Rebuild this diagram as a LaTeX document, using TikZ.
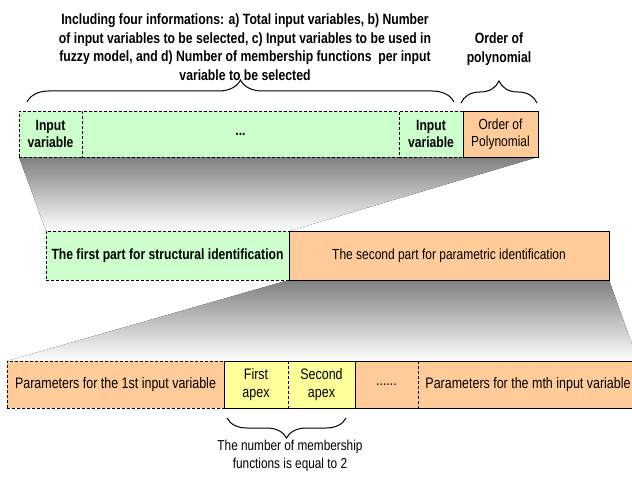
\documentclass[tikz,border=0pt]{standalone}
\usepackage{fontspec}
\setmainfont[FakeStretch=0.82]{Liberation Sans}
\usetikzlibrary{positioning, backgrounds, decorations.pathreplacing}

\definecolor{grn}{HTML}{CCFFCC}
\definecolor{org}{HTML}{FFCC99}
\definecolor{ylw}{HTML}{FFFF99}
\definecolor{shade}{HTML}{C0C0C0}

\tikzset{
	part/.style={inner sep=0pt, outer sep=0pt, align=center, line width=0.9pt},
	grnpart/.style={part, draw, densely dashed, fill=grn, font=\bfseries\fontsize{14.8}{17.5}\selectfont},
	orgpart/.style={part, draw, fill=org, font=\fontsize{14.6}{17.5}\selectfont},
	parpart/.style={part, fill=org, font=\fontsize{15.2}{18}\selectfont},
	apexpart/.style={part, fill=ylw, font=\fontsize{15.2}{18}\selectfont},
	curly/.style={decorate, decoration={brace, amplitude=#1}, line width=1pt},
	note/.style={align=center, inner sep=0pt}
}

\begin{document}
\begin{tikzpicture}[x=1pt, y=1pt]
	\clip[use as bounding box] (0,0) rectangle (632,-481);

	% chromosome: input variables and order
	\node (in1)[grnpart, minimum width=63pt, minimum height=46pt, anchor=north west] at (19,-111) {Input\\variable};
	\node (dots)[grnpart, minimum width=317pt, minimum height=46pt, right=0pt of in1] {...};
	\node (in2)[grnpart, minimum width=64pt, minimum height=46pt, right=0pt of dots] {Input\\variable};
	\node (order)[orgpart, minimum width=75pt, minimum height=46pt, right=0pt of in2] {Order of\\Polynomial};

	% the two parts
	\node (struct)[grnpart, minimum width=243pt, minimum height=49pt, anchor=north west] at (46,-231) {The first part for structural identification};
	\node (param)[orgpart, minimum width=320pt, minimum height=49pt, right=0pt of struct] {The second part for parametric identification};

	% parameters
	\node (p1)[parpart, draw, densely dashed, minimum width=217pt, minimum height=47pt, anchor=north west] at (7,-361) {Parameters for the 1st input variable};
	\node (apex1)[apexpart, minimum width=64pt, minimum height=47pt, right=0pt of p1] {First\\apex};
	\node (apex2)[apexpart, minimum width=67pt, minimum height=47pt, right=0pt of apex1] {Second\\apex};
	\node (pdots)[parpart, minimum width=63pt, minimum height=47pt, right=0pt of apex2] {......};
	\node (pm)[parpart, minimum width=220pt, minimum height=47pt, right=0pt of pdots] {Parameters for the mth input variable};
	\draw[line width=0.9pt] (apex1.north west) rectangle (apex2.south east);
	\draw[line width=0.9pt, densely dashed] (apex1.north east) -- (apex1.south east);
	\draw[line width=0.9pt] (pdots.north west) rectangle (pm.south east);
	\draw[line width=0.9pt, densely dashed] (pdots.north east) -- (pdots.south east);

	\begin{scope}[on background layer]
		\fill[shade] (in1.south west) -- (order.south east) -- (struct.north east) -- (struct.north west) -- cycle;
		\fill[shade] (param.south west) -- (param.south east) -- (pm.north east) -- (p1.north west) -- cycle;
	\end{scope}

	% braces and notes
	\draw[curly=22pt] ([shift={(8pt,9pt)}]in1.north west) -- ([shift={(-9pt,9pt)}]in2.north east);
	\draw[curly=22pt] ([shift={(-2pt,8pt)}]order.north west) -- ([shift={(-1pt,8pt)}]order.north east);
	\draw[curly=20pt] ([shift={(-9pt,-10pt)}]apex2.south east) -- ([shift={(3pt,-10pt)}]apex1.south west);

	\node (info)[note, font=\bfseries\fontsize{14.9}{18.8}\selectfont, anchor=south] at (245,-81) {Including four informations: a) Total input variables, b) Number\\of input variables to be selected, c) Input variables to be used in\\fuzzy model, and d) Number of membership functions\ \ per input\\variable to be selected};
	\node (ordernote)[note, font=\bfseries\fontsize{14.9}{18.8}\selectfont, anchor=south] at (499,-66) {Order of\\polynomial};
	\node (mfnote)[note, font=\fontsize{14.4}{18}\selectfont, anchor=north] at (290,-440) {The number of membership\\functions is equal to 2};
\end{tikzpicture}
\end{document}
